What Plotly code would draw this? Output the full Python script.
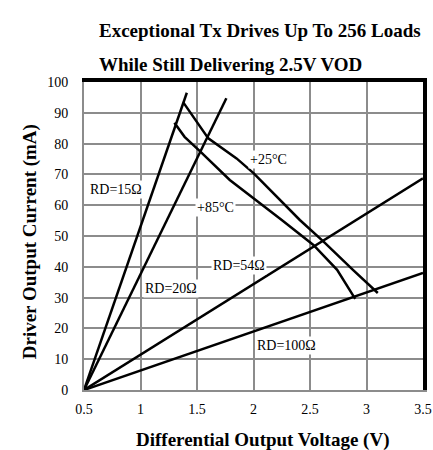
import plotly.graph_objects as go

# Data
rd15_x = [0.5, 1.41]
rd15_y = [0, 96.5]
rd20_x = [0.5, 1.76]
rd20_y = [0, 94.7]
rd54_x = [0.5, 3.5]
rd54_y = [0, 68.7]
rd100_x = [0.5, 3.5]
rd100_y = [0, 38]
t25_x = [1.38, 1.47, 1.6, 1.85, 2.0, 2.41, 2.62, 2.88, 3.1]
t25_y = [93.3, 88.7, 81.7, 75.2, 70.4, 55.2, 48.2, 39, 31.5]
t85_x = [1.3, 1.39, 1.53, 1.79, 2.25, 2.53, 2.74, 2.83, 2.9]
t85_y = [86.8, 82.2, 77.4, 68.2, 55.2, 47.1, 39, 33.5, 29.6]

x_ticks = [0.5, 1, 1.5, 2, 2.5, 3, 3.5]
x_tick_labels = ["0.5", "1", "1.5", "2", "2.5", "3", "3.5"]
y_ticks = [0, 10, 20, 30, 40, 50, 60, 70, 80, 90, 100]

labels = [
    ("RD=15Ω", 0.78, 65),
    ("+85°C", 1.66, 59.2),
    ("+25°C", 2.13, 74.9),
    ("RD=54Ω", 1.87, 40.3),
    ("RD=20Ω", 1.27, 33.1),
    ("RD=100Ω", 2.29, 14.3),
]

FONT = "Liberation Serif, Times New Roman, serif"

fig = go.Figure()
for xs, ys in [(rd15_x, rd15_y), (rd20_x, rd20_y), (rd54_x, rd54_y),
               (rd100_x, rd100_y), (t25_x, t25_y), (t85_x, t85_y)]:
    fig.add_trace(go.Scatter(x=xs, y=ys, mode="lines",
                             line=dict(color="black", width=2.5),
                             showlegend=False, hoverinfo="skip", cliponaxis=False))

# invisible copy of one series on the overlay axes so the top/right frame axes are drawn
fig.add_trace(go.Scatter(x=rd54_x, y=rd54_y, mode="lines", xaxis="x2", yaxis="y2",
                         line=dict(color="rgba(0,0,0,0)", width=0),
                         showlegend=False, hoverinfo="skip"))

for text, x, y in labels:
    fig.add_annotation(x=x, y=y, text=text, showarrow=False,
                       bgcolor="white", font=dict(family=FONT, size=14, color="black"),
                       borderpad=1)

fig.add_annotation(xref="paper", yref="paper", x=0.038, y=1.208, xanchor="left",
                   text="<b>Exceptional Tx Drives Up To 256 Loads</b>", showarrow=False,
                   font=dict(family=FONT, size=19, color="black"))
fig.add_annotation(xref="paper", yref="paper", x=0.038, y=1.097, xanchor="left",
                   text="<b>While Still Delivering 2.5V VOD</b>", showarrow=False,
                   font=dict(family=FONT, size=19, color="black"))
fig.add_annotation(xref="paper", yref="paper", x=0.528, y=-0.162,
                   xanchor="center", yanchor="middle",
                   text="<b>Differential Output Voltage (V)</b>", showarrow=False,
                   font=dict(family=FONT, size=19, color="black"))
fig.add_annotation(xref="paper", yref="paper", x=-0.159, y=0.48, textangle=-90,
                   xanchor="center", yanchor="middle",
                   text="<b>Driver Output Current (mA)</b>", showarrow=False,
                   font=dict(family=FONT, size=19, color="black"))

fig.update_layout(
    xaxis=dict(range=[0.5, 3.5], tickvals=x_ticks, ticktext=x_tick_labels,
               showgrid=True, gridcolor="#8c8c8c", gridwidth=2,
               showline=True, linecolor="#8c8c8c", linewidth=2,
               zeroline=False, ticks="", ticklabelstandoff=5, automargin=False,
               tickfont=dict(family=FONT, size=14, color="black")),
    yaxis=dict(range=[0, 100], tickvals=y_ticks,
               showgrid=True, gridcolor="#8c8c8c", gridwidth=2,
               showline=True, linecolor="#8c8c8c", linewidth=2,
               zeroline=False, ticks="", ticklabelstandoff=11, automargin=False,
               tickfont=dict(family=FONT, size=14, color="black")),
    xaxis2=dict(range=[0.5, 3.5], overlaying="x", side="top", anchor="y2",
                showline=True, linecolor="black", linewidth=3.5,
                showgrid=False, zeroline=False, showticklabels=False, ticks="",
                automargin=False),
    yaxis2=dict(range=[0, 100], overlaying="y", side="right", anchor="x2",
                showline=True, linecolor="black", linewidth=3.5,
                showgrid=False, zeroline=False, showticklabels=False, ticks="",
                automargin=False),
    width=433, height=450, margin=dict(l=84, r=10, t=82, b=60),
    plot_bgcolor="white", paper_bgcolor="white",
)

# remove the default page margin so the 433x450 figure fills the window exactly
fig.write_html("out.html", config={"displayModeBar": False},
               post_script="document.body.style.margin='0';document.body.style.overflow='hidden';")
